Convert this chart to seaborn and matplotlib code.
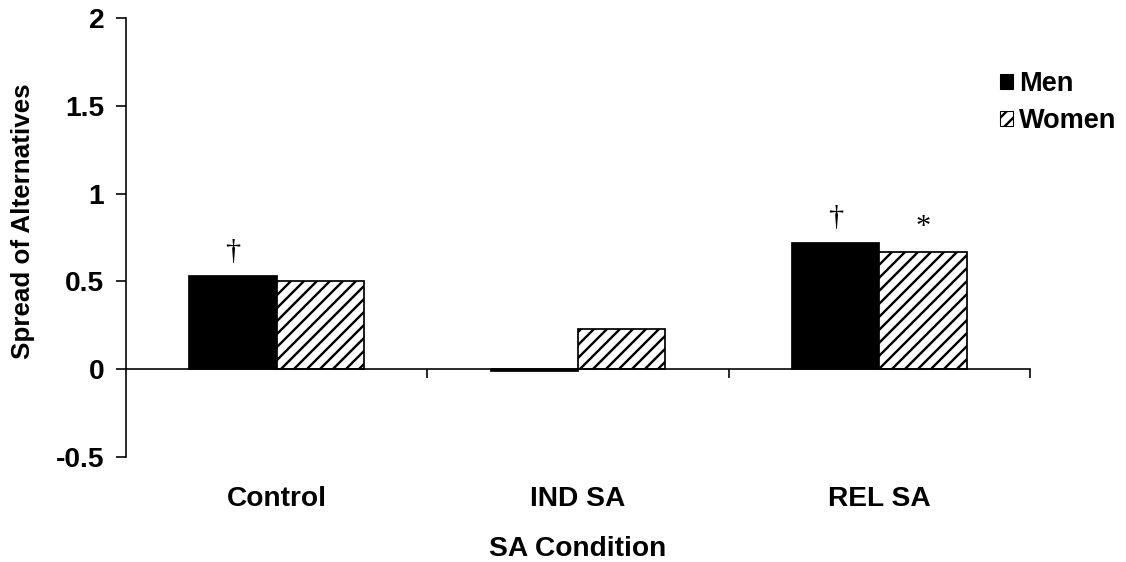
import matplotlib
matplotlib.use("Agg")
import matplotlib.pyplot as plt
from matplotlib.patches import Patch
import pandas as pd
import seaborn as sns

# values
conditions = ["Control", "IND SA", "REL SA"]
groups = ["Men", "Women"]
men = [0.53, -0.01, 0.72]
women = [0.50, 0.23, 0.67]
marks_men = ["†", "", "†"]
marks_women = ["", "", "*"]
y_ticks = [-0.5, 0, 0.5, 1, 1.5, 2]
y_labels = ["-0.5", "0", "0.5", "1", "1.5", "2"]

df = pd.DataFrame({
    "Condition": conditions * 2,
    "Sex": ["Men"] * len(conditions) + ["Women"] * len(conditions),
    "Spread": men + women,
})

sns.set_style("white")
plt.rcParams["font.family"] = ["Liberation Sans", "DejaVu Sans"]
plt.rcParams["font.weight"] = "bold"
plt.rcParams["hatch.linewidth"] = 2.2
for key in ["text.color", "axes.labelcolor", "xtick.color", "ytick.color", "axes.edgecolor"]:
    plt.rcParams[key] = "black"

DPI = 78
fig = plt.figure(figsize=(1126 / DPI, 562 / DPI), dpi=DPI)
ax = fig.add_axes([0.1119, 0.1868, 0.8028, 0.7812])

sns.barplot(data=df, x="Condition", y="Spread", hue="Sex", order=conditions,
            hue_order=groups, palette=["black", "white"], edgecolor="black",
            linewidth=1.6, width=0.58, legend=False, ax=ax)

# hatch the women bars
for p in ax.patches:
    if p.get_facecolor()[0] > 0.5:
        p.set_hatch("//")

# significance marks over the bars
for cont, marks in zip(ax.containers, [marks_men, marks_women]):
    bars = sorted(cont, key=lambda b: b.get_x())
    for b, m in zip(bars, marks):
        if m:
            ax.text(b.get_x() + b.get_width() / 2, max(b.get_height(), 0) + 0.1, m,
                    ha="center", va="baseline", fontsize=28, fontweight="normal",
                    family=["Liberation Serif", "DejaVu Serif"])

ax.set_xlim(-0.5, 2.5)
ax.set_ylim(-0.5, 2)
ax.set_yticks(y_ticks)
ax.set_yticklabels(y_labels)

ax.spines["top"].set_visible(False)
ax.spines["right"].set_visible(False)
ax.spines["bottom"].set_position(("data", 0))
ax.spines["bottom"].set_linewidth(1.5)
ax.spines["left"].set_linewidth(1.5)

ax.set_xticks([0.5, 1.5, 2.5], minor=True)
ax.tick_params(axis="x", which="major", length=0, pad=108, labelsize=26)
ax.tick_params(axis="x", which="minor", bottom=True, direction="out", length=8, width=1.5)
ax.tick_params(axis="y", left=True, direction="out", length=9, width=1.5,
               labelsize=26, pad=11)

ax.set_xlabel("SA Condition", fontsize=26, fontweight="bold", va="baseline")
ax.xaxis.set_label_coords(0.5, -0.2255)
ax.set_ylabel("Spread of Alternatives", fontsize=24, fontweight="bold", va="center")
ax.yaxis.set_label_coords(-0.114, 0.538)

handles = [Patch(facecolor="black", edgecolor="black", label="Men"),
           Patch(facecolor="white", edgecolor="black", hatch="//", label="Women")]
fig.legend(handles=handles, loc="upper left", bbox_to_anchor=(0.888, 0.873), frameon=False,
           fontsize=25, handlelength=0.5, handleheight=0.5, handletextpad=0.2,
           labelspacing=0.4, borderpad=0, borderaxespad=0)

fig.savefig("out.png", dpi=DPI)
